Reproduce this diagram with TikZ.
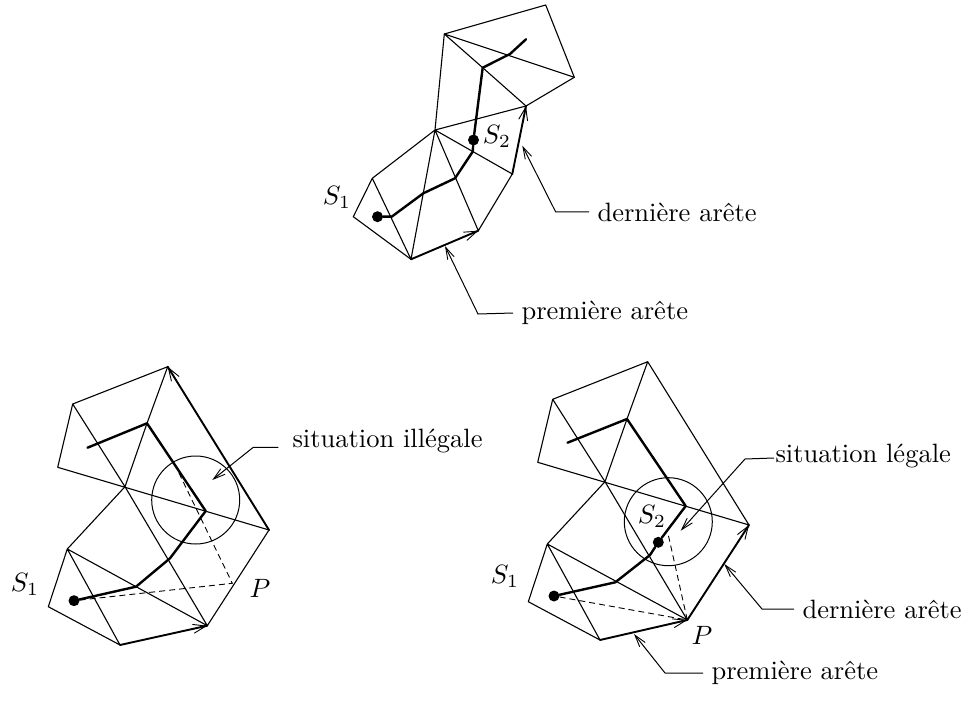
\documentclass[tikz,border=0pt]{standalone}
\usetikzlibrary{arrows.meta,calc}
\tikzset{
  x=1pt,y=-1pt,
  thinl/.style={line width=1.1pt,line cap=round,line join=round},
  thickl/.style={line width=2.4pt,line cap=round,line join=round},
  edgel/.style={line width=1.9pt,line cap=round,line join=round},
  dashl/.style={line width=0.9pt,dash pattern=on 6pt off 4pt},
  barb/.style={line width=0.9pt,-{Straight Barb[length=13pt,width=9pt,line width=0.9pt]}},
  ptr/.style={line width=1pt,-{Straight Barb[length=12pt,width=7pt,line width=0.9pt]}},
  dot/.style={circle,fill=black,inner sep=0,minimum size=11pt},
  lab/.style={scale=2.65,inner sep=0},
  txt/.style={scale=2.65,inner sep=0,anchor=west},
  circ/.style={line width=1pt,circle,draw,inner sep=0,minimum size=88pt}
}
\begin{document}
\begin{tikzpicture}
\useasboundingbox (0,0) rectangle (969,714);
% ---------- top
\foreach \n/\p in {a/{353.3,216.7},b/{372.3,178.3},c/{411,259.3},d/{435,130},e/{478.3,230.7},f/{512.3,174},g/{526,106},h/{444.3,34},i/{482.7,67.7},j/{574.3,77.3},k/{545.7,5},
  p1/{391.7,216.7},p2/{423.3,193.3},p3/{455,178.3},p4/{472.7,151.7},p5/{476,120},p6/{510,54},p7/{526,39.3}}{\coordinate (t\n) at (\p);}
\draw[thinl] (ta)--(tb)--(td)--(th)--(tk)--(tj)--(tg)--(td)--(tf)--(te)--(td)--(tc)--(tb);
\draw[thinl] (ta)--(tc);
\draw[thinl] (th)--(tj) (th)--(ti)--(tg);
\draw[edgel] (tc)--(te);
\draw[edgel] (tf)--(tg);
\draw[barb] ($(tc)!0.7!(te)$)--(te);
\draw[barb] ($(tf)!0.7!(tg)$)--(tg);
\node[dot] (ts) at (377.5,216.7) {};
\node[dot] (ts2) at (473.5,140) {};
\draw[thickl] (ts)--(tp1)--(tp2)--(tp3)--(tp4)--(ts2)--(tp5)--(ti)--(tp6)--(tp7);
\node[lab] (ts1l) at (337,197) {$S_1$};
\node[lab] (ts2l) at (497,136) {$S_2$};
\node[txt] (tder) at (597,212) {dernière arête};
\node[txt] (tpre) at (521,313) {première arête};
\coordinate (tde) at (555.7,212);
\coordinate (tpe) at (478,314);
\coordinate (tdt) at (522.3,145.7);
\coordinate (tpt) at (445,246);
\draw[ptr] (tder.west)++(-8,0)--(tde)--(tdt);
\draw[ptr] (tpre.west)++(-8,0)--(tpe)--(tpt);
% ---------- bottom left
\foreach \n/\p in {a/{48.3,606.7},b/{67.3,549},c/{120,645},d/{125,486.7},e/{207.3,625.7},f/{269,530},h/{72.7,404},i/{147,423.3},k/{167.7,366.7},l/{57.7,467.3},m/{205.7,511},pp/{232.3,583.3},n/{136,586.7},q/{170,558.3},z/{87.5,447.7},dd/{178.3,471.7}}{\coordinate (l\n) at (\p);}
\draw[thinl] (la)--(lb)--(ld)--(le)--(lf) (la)--(lc)--(lb)--(le);
\draw[thinl] (ll)--(lh)--(lk) (ll)--(lf) (lh)--(ld)--(li)--(lk);
\draw[edgel] (lc)--(le);
\draw[edgel] (lk)--(lf);
\draw[barb] ($(lc)!0.7!(le)$)--(le);
\draw[barb] ($(lf)!0.88!(lk)$)--(lk);
\node[dot] (lr) at (74,600.7) {};
\draw[dashl] (lr)--(lpp)--(ldd);
\draw[thickl] (lr)--(ln)--(lq)--(lm)--(li)--(lz);
\node[circ] (lc1) at (195.7,500) {};
\node[lab] at (25,584) {$S_1$};
\node[lab] at (260,588) {$P$};
\node[txt] (lsit) at (292,441) {situation illégale};
\coordinate (lse) at (253.3,447.3);
\coordinate (lst) at (212.3,480);
\draw[ptr] (278.3,447.3)--(lse)--(lst);
% ---------- bottom right
\foreach \n/\p in {a/{528.3,601.7},b/{547.3,544},c/{600,640},d/{605,481.7},e/{687.3,620},f/{749,525},h/{552.7,399.3},i/{627,419},k/{647.7,361.7},l/{537.7,462.3},m/{685.7,506},n/{615.3,582.3},q/{650,555},z/{567.5,442.7},dd/{668.3,535}}{\coordinate (r\n) at (\p);}
\draw[thinl] (ra)--(rb)--(rd)--(re) (ra)--(rc)--(rb)--(re);
\draw[thinl] (rl)--(rh)--(rk)--(rf) (rl)--(rf) (rh)--(rd)--(ri)--(rk);
\draw[edgel] (rc)--(re);
\draw[edgel] (re)--(rf);
\draw[barb] ($(rc)!0.7!(re)$)--(re);
\draw[barb] ($(re)!0.8!(rf)$)--(rf);
\node[dot] (rr) at (554,596) {};
\node[dot] (rs) at (658.3,542.3) {};
\draw[dashl] (rr)--(re)--(rdd);
\draw[thickl] (rr)--(rn)--(rq)--(rs)--(rm)--(ri)--(rz);
\node[circ] (rc1) at (668.3,521.7) {};
\node[lab] at (505,576) {$S_1$};
\node[lab] at (652,516) {$S_2$};
\node[lab] at (702,635) {$P$};
\node[txt] (rsit) at (775,456) {situation légale};
\node[txt] (rder) at (802,609) {dernière arête};
\node[txt] (rpre) at (711,673) {première arête};
\coordinate (r1e) at (745,459);
\coordinate (r1t) at (680.7,530.7);
\coordinate (r2e) at (762,609);
\coordinate (r2t) at (724.3,564);
\coordinate (r3e) at (665,673);
\coordinate (r3t) at (634,634);
\draw[ptr] (rsit.west)++(-1,2)--(r1e)--(r1t);
\draw[ptr] (rder.west)++(-8,0)--(r2e)--(r2t);
\draw[ptr] (rpre.west)++(-8,0)--(r3e)--(r3t);
\end{tikzpicture}
\end{document}
